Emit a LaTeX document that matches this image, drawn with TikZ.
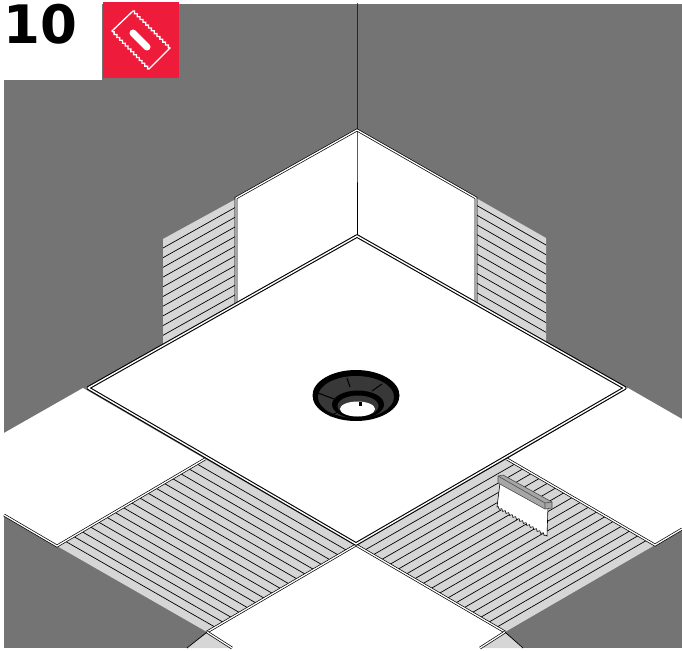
\documentclass[tikz,border=0pt]{standalone}
\usepackage{fontspec}
\setmainfont{DejaVu Sans}
\usetikzlibrary{calc}
\usetikzlibrary{decorations.pathmorphing}
\definecolor{wallgray}{HTML}{747474}
\definecolor{gluegray}{HTML}{D6D6D6}
\definecolor{iconred}{HTML}{EE1C3A}
\tikzset{
    hatchline/.style={black, line width=0.7pt},
    tileedge/.style={draw=black, double=white, double distance=1.3pt, line width=0.7pt},
    trayedge/.style={draw=black, double=white, double distance=1.4pt, line width=1.1pt, line join=bevel}
}

\begin{document}
\begin{tikzpicture}[x=1pt, y=-1pt]
    \useasboundingbox (0,0) rectangle (682,650);

    % Define the wall and the tray
    \coordinate (WallTop) at (357,130);
    \coordinate (WallBase) at (357,236);
    \coordinate (WallLeftTop) at (236,198);
    \coordinate (WallLeftBase) at (236,303);
    \coordinate (WallRightTop) at (476,198);
    \coordinate (WallRightBase) at (476,303);
    \coordinate (TrayL) at (88,388);
    \coordinate (TrayR) at (625,388);
    \coordinate (TrayB) at (356,544);

    % Define the floor corners
    \coordinate (LeftA) at (205,459);
    \coordinate (LeftB) at (354,545);
    \coordinate (LeftC) at (207,632);
    \coordinate (LeftD) at (57,546);
    \coordinate (RightA) at (507,459);
    \coordinate (RightB) at (655,545);
    \coordinate (RightC) at (505,632);
    \coordinate (RightD) at (357,545);

    % Draw the background
    \fill[wallgray] (4,4) rectangle (682,648);

    % Draw the glue on the walls
    \fill[gluegray] (163,239) -- (236,199) -- (236,303) -- (163,345) -- cycle;
    \fill[gluegray] (476,198) -- (546,238) -- (546,343) -- (476,303) -- cycle;
    \foreach \t in {1,...,10} {
        \draw[hatchline] ($(163,248)+(0,\t*9.7-9.7)$) -- ($(236,207)+(0,\t*9.7-9.7)$);
        \draw[hatchline] ($(476,205)+(0,\t*9.7-9.7)$) -- ($(546,245)+(0,\t*9.7-9.7)$);
    }

    % Draw the white wall panels
    \fill[white] (WallLeftTop) -- (WallTop) -- (WallRightTop) -- (WallRightBase) -- (WallBase) -- (WallLeftBase) -- cycle;
    \draw[black, line width=1pt] (357,3) -- (WallTop) -- (WallBase);
    \draw[tileedge] (WallLeftBase) -- (WallLeftTop) -- (WallTop) -- (WallRightTop) -- (WallRightBase);

    % Draw the glue on the floor
    \fill[gluegray] (LeftA) -- (LeftB) -- (LeftC) -- (LeftD) -- cycle;
    \fill[gluegray] (RightD) -- (RightA) -- (RightB) -- (RightC) -- cycle;
    \foreach \t in {1,...,17} {
        \draw[hatchline] ($(LeftA)!\t/18!(LeftD)$) -- ($(LeftB)!\t/18!(LeftC)$);
        \draw[hatchline] ($(RightD)!\t/18!(RightC)$) -- ($(RightA)!\t/18!(RightB)$);
    }

    % Draw the glue showing below the floor tiles
    \fill[gluegray] (207,633) -- (230,648) -- (187,648) -- cycle;
    \fill[gluegray] (505,633) -- (523,648) -- (480,648) -- cycle;

    % Draw the floor tiles
    \fill[white] (4,433) -- (83,388) -- (LeftA) -- (LeftD) -- (4,515) -- cycle;
    \fill[white] (628,388) -- (682,419) -- (682,529) -- (RightB) -- (RightA) -- cycle;
    \fill[white] (356,545) -- (RightC) -- (480,648) -- (232,648) -- (LeftC) -- cycle;
    \draw[tileedge] (4,515) -- (LeftD) -- (LeftA);
    \draw[tileedge] (682,529) -- (RightB) -- (RightA);
    \draw[tileedge] (LeftC) -- (356,545) -- (RightC);
    \draw[tileedge] (LeftC) -- (232,648);
    \draw[tileedge] (RightC) -- (480,648);
    \draw[black, line width=0.7pt] (LeftC) -- (187,648);
    \draw[black, line width=0.7pt] (RightC) -- (523,648);

    % Draw the tray
    \fill[white] (TrayL) -- (WallBase) -- (TrayR) -- (TrayB) -- cycle;
    \draw[trayedge] (TrayL) -- (WallBase) -- (TrayR) -- (TrayB) -- cycle;

    % Draw the drain
    \fill[black] (356,395.5) ellipse [x radius=43.5pt, y radius=25.5pt];
    \fill[black!78] (356,397) ellipse [x radius=38pt, y radius=21pt];
    \draw[black, line width=1pt] (347,378) -- (350,387);
    \draw[black, line width=1pt] (382,384) -- (372,391);
    \draw[black, line width=1pt] (318,393) -- (334,399);
    \draw[black, line width=1pt] (330,416) -- (340,411);
    \fill[black] (358,404.5) ellipse [x radius=26pt, y radius=14pt];
    \fill[black!78] (358,406) ellipse [x radius=20.5pt, y radius=10.5pt];
    \fill[white] (357.5,409) ellipse [x radius=17.5pt, y radius=7.5pt];
    \fill[black] (359,402) rectangle (362,406);

    % Draw the trowel
    \fill[white] (500,483) -- (548,503) -- (547,536) -- (497,507) -- cycle;
    \draw[black, line width=0.6pt] (500,483) -- (497,507)
        decorate[decoration={zigzag, amplitude=1pt, segment length=4pt}] {-- (547,536)} -- (548,506);
    \fill[black!35] (498,476) -- (503,475) -- (552,502) -- (552,508) -- (545,509) -- (498,483) -- cycle;
    \draw[black!70, line width=0.6pt] (498,476) -- (503,475) -- (552,502) -- (552,508) -- (545,509) -- (498,483) -- cycle;
    \draw[black!70, line width=0.6pt] (498,476) -- (545,503) -- (552,502) (545,503) -- (545,509);

    % Draw the step number and the icon
    \fill[white] (0,0) rectangle (102,80);
    \fill[iconred] (103,2) rectangle (179,78);
    \draw[white, line width=1.3pt] (133,11)
        decorate[decoration={zigzag, amplitude=1pt, segment length=4pt}] {-- (170,48)} -- (149,69)
        decorate[decoration={zigzag, amplitude=1pt, segment length=4pt}] {-- (112,31)} -- cycle;
    \draw[white, line width=7pt, line cap=round] (133,33) -- (147,47);
    \node[anchor=base west, inner sep=0pt, font=\fontsize{53}{53}\selectfont\bfseries] (stepnum) at (3,44) {10};
\end{tikzpicture}
\end{document}
